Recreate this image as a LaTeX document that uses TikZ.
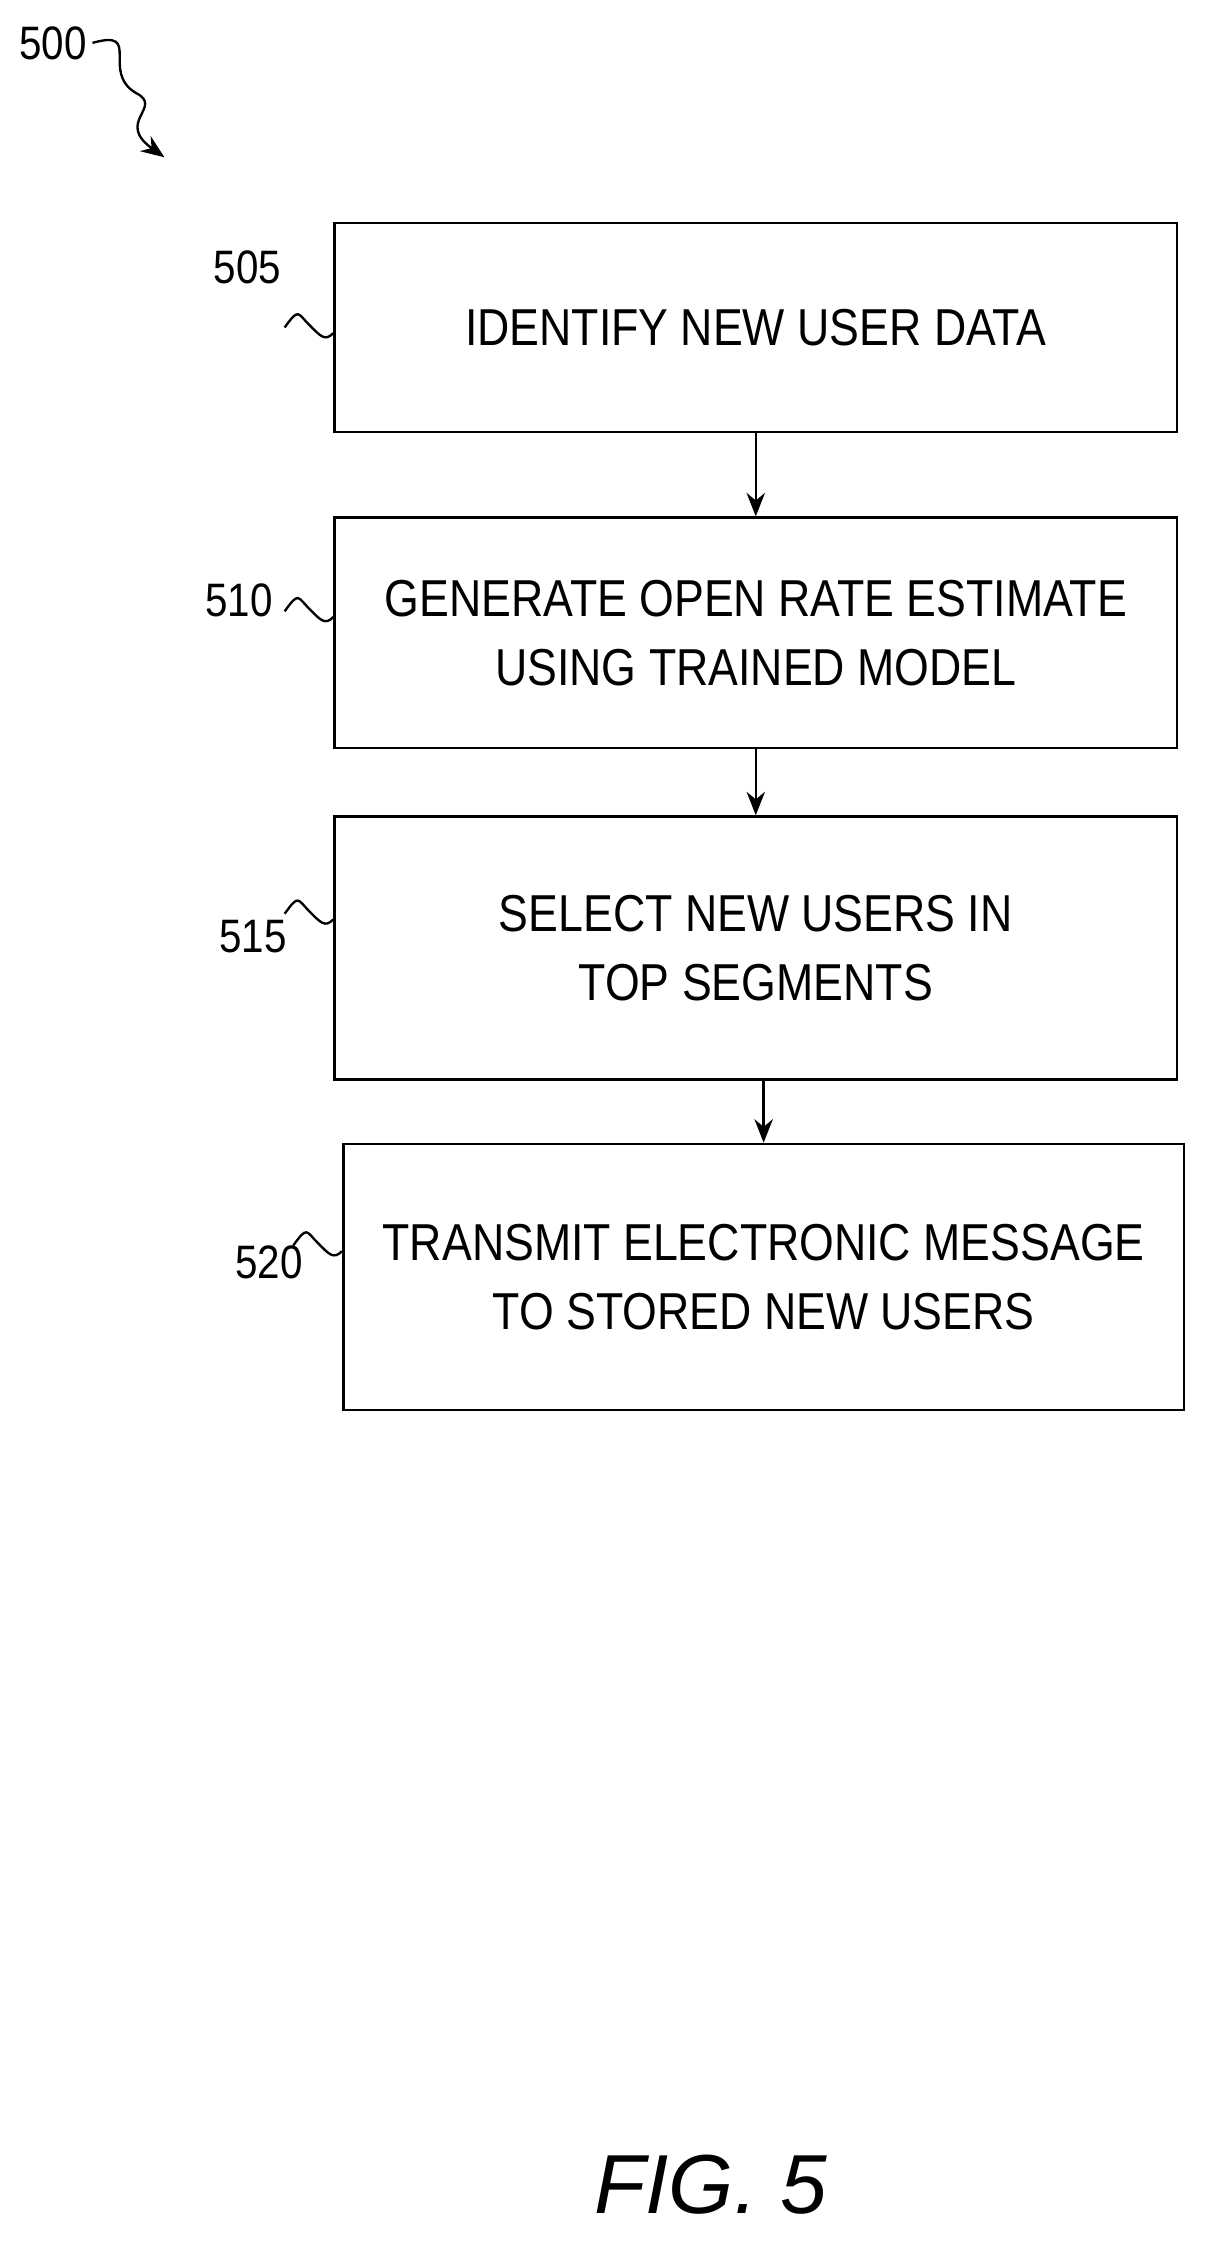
\documentclass[tikz,border=0pt]{standalone}
\usepackage{fontspec}
\setmainfont{Liberation Sans}
\newfontfamily\narrowf[FakeStretch=0.86]{Liberation Sans}
\usetikzlibrary{arrows.meta}
\begin{document}
\begin{tikzpicture}[x=0.03cm,y=-0.03cm,
  box/.style={draw,line width=1.6pt,inner sep=0pt,align=center,font=\narrowf\fontsize{31}{41}\selectfont},
  lab/.style={font=\narrowf\fontsize{28}{30}\selectfont},
  arr/.style={-{Stealth[length=14pt,width=11pt]},line width=1.4pt},
  sq/.style={line width=1.4pt}]
\useasboundingbox (0,0) rectangle (850,1579);
\node[box,minimum width=589*0.03cm,minimum height=146*0.03cm] (b1) at (528.5,229) {IDENTIFY NEW USER DATA};
\node[box,minimum width=589*0.03cm,minimum height=161*0.03cm] (b2) at (528.5,442.5) {GENERATE OPEN RATE ESTIMATE\\USING TRAINED MODEL};
\node[box,minimum width=589*0.03cm,minimum height=184*0.03cm] (b3) at (528.5,663) {SELECT NEW USERS IN\\TOP SEGMENTS};
\node[box,minimum width=588*0.03cm,minimum height=186*0.03cm] (b4) at (534,893) {TRANSMIT ELECTRONIC MESSAGE\\TO STORED NEW USERS};
\draw[arr] (b1.south) -- (b2.north);
\draw[arr] (b2.south) -- (b3.north);
\draw[arr] (b3.south-|534,0) -- (b4.north);
\node[lab] (l0) at (37,30) {500};
\node[lab] (l1) at (173,187) {505};
\node[lab] (l2) at (167,420) {510};
\node[lab] (l3) at (177,655) {515};
\node[lab] (l4) at (188,883) {520};
\coordinate (e0) at (115,110);
\draw[sq,-{Stealth[length=14pt,width=11pt]}] (l0.east) .. controls (100,20) and (70,50) .. (95,65) .. controls (115,75) and (80,85) .. (e0);
\foreach \l/\b/\s in {l1/b1/0,l2/b2/15,l3/b3/24,l4/b4/22}{
  \draw[sq] ([xshift=-34*0.03cm,yshift=\s*0.03cm]\b.west) .. controls +(10,-14) and +(-8,-8) .. +(17,-2) .. controls +(8,8) and +(-6,6) .. ([yshift=\s*0.03cm-4*0.03cm]\b.west);
}
\node[font=\itshape\fontsize{50}{55}\selectfont] (fig) at (497,1528) {FIG. 5};
\end{tikzpicture}
\end{document}
